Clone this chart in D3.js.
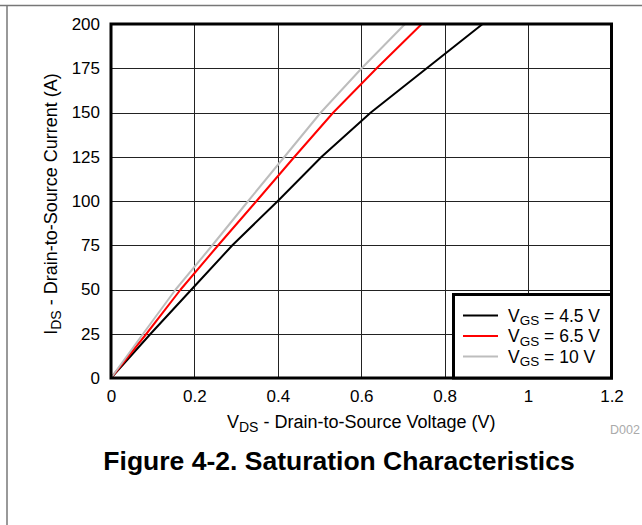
<!DOCTYPE html>
<html>
<head>
<meta charset="utf-8">
<script src="https://cdn.jsdelivr.net/npm/d3@7"></script>
<style>
  body { margin: 0; background: #fff; }
  svg { display: block; font-family: "Liberation Sans", Arial, sans-serif; }
</style>
</head>
<body>
<div id="chart"></div>
<script>
/// DATA (current points, voltage per series)
const currents = [0, 25, 50, 75, 100, 125, 150, 175, 200];
const vgs45 = [0, 0.095, 0.193, 0.291, 0.4, 0.505, 0.623, 0.757, 0.891];
const vgs65 = [0, 0.085, 0.167, 0.257, 0.349, 0.44, 0.533, 0.637, 0.745];
const vgs10 = [0, 0.077, 0.155, 0.243, 0.329, 0.416, 0.503, 0.601, 0.705];
const seriesNames = ['4.5 V', '6.5 V', '10 V'];
const seriesColors = ['#000000', '#ff0000', '#bdbdbd'];
const xTicks = [0, 0.2, 0.4, 0.6, 0.8, 1, 1.2];
const yTicks = [0, 25, 50, 75, 100, 125, 150, 175, 200];

const W = 642, H = 525;
let margin = {top: 24, right: 30.5, bottom: 147, left: 111};
let width = W - margin.left - margin.right,
    height = H - margin.top - margin.bottom;

let x = d3.scaleLinear().domain([0, 1.2]).range([0, width]);
let y = d3.scaleLinear().domain([0, 200]).range([height, 0]);

let svg = d3.select('#chart').append('svg')
  .attr('width', W).attr('height', H);

/// outer page frame (top and left only, the rest is clipped)
svg.append('line').attr('x1', 0).attr('x2', W).attr('y1', 5.5).attr('y2', 5.5)
  .attr('stroke', '#777').attr('stroke-width', 1.5);
svg.append('line').attr('x1', 7).attr('x2', 7).attr('y1', 5.5).attr('y2', H)
  .attr('stroke', '#777').attr('stroke-width', 1.5);

let g = svg.append('g').attr('transform', `translate(${margin.left},${margin.top})`);

/// GRID
g.append('g').selectAll('line').data(xTicks.slice(1, -1)).join('line')
  .attr('x1', d => Math.round(x(d)) + 0.5).attr('x2', d => Math.round(x(d)) + 0.5)
  .attr('y1', 0).attr('y2', height)
  .attr('stroke', '#222').attr('stroke-width', 1);
g.append('g').selectAll('line').data(yTicks.slice(1, -1)).join('line')
  .attr('y1', d => Math.round(y(d)) + 0.5).attr('y2', d => Math.round(y(d)) + 0.5)
  .attr('x1', 0).attr('x2', width)
  .attr('stroke', '#222').attr('stroke-width', 1);

/// AXES (labels only, frame drawn separately)
let xAxis = g.append('g').attr('transform', `translate(0,${height})`)
  .call(d3.axisBottom(x).tickValues(xTicks).tickSize(0).tickPadding(12).tickFormat(d3.format('~g')));
let yAxis = g.append('g')
  .call(d3.axisLeft(y).tickValues(yTicks).tickSize(0).tickPadding(11));
[xAxis, yAxis].forEach(a => {
  a.select('.domain').remove();
  a.selectAll('text').attr('font-size', 17).attr('fill', '#000')
    .attr('font-family', '"Liberation Sans", Arial, sans-serif');
});

/// CURVES
let line = d3.line().x(d => x(d[0])).y(d => y(d[1]));
[vgs45, vgs65, vgs10].forEach((vals, i) => {
  g.append('path')
    .datum(vals.map((v, j) => [v, currents[j]]))
    .attr('d', line)
    .attr('fill', 'none')
    .attr('stroke', seriesColors[i])
    .attr('stroke-width', 2)
    .attr('stroke-linejoin', 'round');
});

/// plot frame
g.append('rect').attr('x', 0).attr('y', 0).attr('width', width).attr('height', height)
  .attr('fill', 'none').attr('stroke', '#000').attr('stroke-width', 3);

/// LEGEND
let lx = 453.5 - margin.left, ly = 294.5 - margin.top;
let legend = g.append('g');
legend.append('rect')
  .attr('x', lx).attr('y', ly).attr('width', width - lx).attr('height', height - ly)
  .attr('fill', '#fff').attr('stroke', '#000').attr('stroke-width', 3);
seriesNames.forEach((name, i) => {
  let cy = 315.5 - margin.top + i * 20.5;
  legend.append('line')
    .attr('x1', 463 - margin.left).attr('x2', 498 - margin.left)
    .attr('y1', cy).attr('y2', cy)
    .attr('stroke', seriesColors[i]).attr('stroke-width', 2);
  let t = legend.append('text')
    .attr('x', 508 - margin.left).attr('y', cy + 6)
    .attr('font-size', 17.5).attr('fill', '#000');
  t.append('tspan').text('V');
  t.append('tspan').attr('font-size', 13.5).attr('dy', 3.5).text('GS');
  t.append('tspan').attr('dy', -3.5).text(' = ' + name);
});

/// AXIS TITLES
let xt = svg.append('text')
  .attr('x', margin.left + width / 2).attr('y', 428)
  .attr('text-anchor', 'middle').attr('font-size', 18).attr('fill', '#000');
xt.append('tspan').text('V');
xt.append('tspan').attr('font-size', 14).attr('dy', 3.5).text('DS');
xt.append('tspan').attr('dy', -3.5).text(' - Drain-to-Source Voltage (V)');

let yt = svg.append('text')
  .attr('transform', `translate(57,${margin.top + height / 2 + 3}) rotate(-90)`)
  .attr('text-anchor', 'middle').attr('font-size', 18).attr('fill', '#000');
yt.append('tspan').text('I');
yt.append('tspan').attr('font-size', 14).attr('dy', 3.5).text('DS');
yt.append('tspan').attr('dy', -3.5).text(' - Drain-to-Source Current (A)');

svg.append('text').attr('x', 610).attr('y', 434)
  .attr('font-size', 12.5).attr('fill', '#aaa').text('D002');

/// FIGURE CAPTION
svg.append('text').attr('x', 339).attr('y', 470)
  .attr('text-anchor', 'middle').attr('font-size', 26.5).attr('font-weight', 'bold')
  .attr('fill', '#000').text('Figure 4-2. Saturation Characteristics');
</script>
</body>
</html>
